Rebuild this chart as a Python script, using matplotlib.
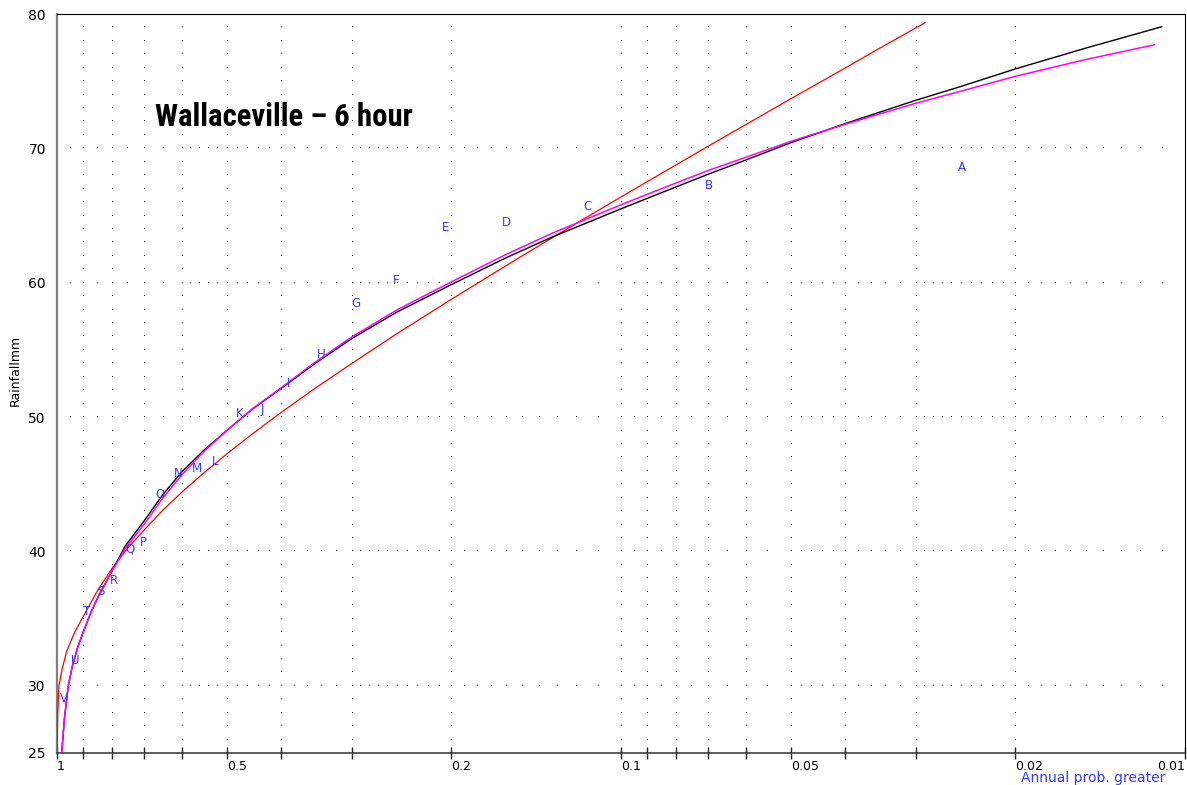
import numpy as np
import matplotlib
matplotlib.use('Agg')
import matplotlib.pyplot as plt
from matplotlib import font_manager as fm

# Probability plot: rainfall (mm) vs annual exceedance probability
letters = list('ABCDEFGHIJKLMNOPQRSTUV')
obs_p = [0.0249, 0.0697, 0.1147, 0.1595, 0.2048, 0.2507, 0.2949, 0.3396, 0.3880, 0.4330, 0.4749,
         0.5237, 0.5638, 0.6104, 0.6559, 0.7028, 0.7436, 0.7932, 0.8354, 0.8846, 0.9272, 0.9730]
obs_mm = [68.57, 67.23, 65.66, 64.48, 64.11, 60.20, 58.46, 54.67, 52.49, 50.58, 50.28,
          46.71, 46.18, 45.82, 44.24, 40.65, 40.15, 37.87, 37.05, 35.54, 31.87, 29.09]

black_p = [0.981, 0.97, 0.955, 0.94, 0.92, 0.9, 0.87, 0.845, 0.8, 0.757, 0.7, 0.65, 0.6, 0.55,
           0.5, 0.45, 0.4, 0.35, 0.3, 0.25, 0.2, 0.16, 0.1328, 0.1, 0.085, 0.07, 0.06, 0.05,
           0.04, 0.03, 0.025, 0.02, 0.015, 0.011]
black_mm = [25.0, 27.6, 30.0, 31.4, 32.8, 33.92, 35.5, 36.64, 38.5, 40.4, 42.3, 44.2, 45.95, 47.5,
            49.0, 50.6, 52.15, 53.95, 55.85, 57.8, 59.86, 61.85, 63.38, 65.5, 66.68, 68.08, 69.14,
            70.42, 71.85, 73.58, 74.6, 75.91, 77.46, 79.05]

magenta_p = [0.981, 0.97, 0.955, 0.94, 0.92, 0.9, 0.87, 0.845, 0.8, 0.757, 0.7, 0.65, 0.6, 0.55,
             0.5, 0.45, 0.4, 0.35, 0.3, 0.25, 0.2, 0.16, 0.1328, 0.1, 0.085, 0.07, 0.06, 0.05,
             0.04, 0.03, 0.025, 0.02, 0.015, 0.01133]
magenta_mm = [25.0, 27.6, 30.0, 31.4, 32.8, 33.92, 35.5, 36.64, 38.5, 40.2, 42.05, 43.95, 45.73,
              47.4, 49.0, 50.63, 52.2, 54.03, 55.97, 57.96, 60.06, 62.1, 63.66, 65.8, 66.98, 68.36,
              69.34, 70.52, 71.8, 73.36, 74.25, 75.36, 76.61, 77.71]

red_p = [0.9995, 0.9971, 0.992, 0.98, 0.961, 0.93, 0.9, 0.85, 0.8, 0.75, 0.7, 0.65, 0.6, 0.55,
         0.5, 0.45, 0.4, 0.35, 0.3, 0.25, 0.2, 0.15, 0.12, 0.1, 0.085, 0.07, 0.06, 0.05, 0.04,
         0.035, 0.0289]
red_mm = [25.0, 28.0, 30.0, 31.2, 32.6, 34.0, 35.1, 37.0, 38.7, 40.23, 41.62, 43.05, 44.43, 45.82,
          47.26, 48.76, 50.36, 52.09, 54.0, 56.19, 58.76, 61.98, 64.42, 66.38, 68.11, 70.17,
          71.78, 73.69, 75.99, 77.39, 79.35]

major_p = [1, 0.5, 0.2, 0.1, 0.05, 0.02, 0.01]
major_labels = ['1', '0.5', '0.2', '0.1', '0.05', '0.02', '0.01']
minor_p = [0.9, 0.8, 0.7, 0.6, 0.4, 0.3, 0.09, 0.08, 0.07, 0.06, 0.04, 0.03]
y_ticks = [25, 30, 40, 50, 60, 70, 80]
grid_rows = [30, 40, 50, 60, 70]

blue = '#3838ff'


def fwd(p):
  with np.errstate(divide='ignore', invalid='ignore'):
    return np.log(np.asarray(p, dtype=float))


def inv(t):
  return np.exp(np.asarray(t, dtype=float))


def narrow_bold_font():
  # look for a condensed bold face (like Arial Narrow); fall back to Liberation Sans bold
  wanted = ['Liberation Sans Narrow', 'Arial Narrow', 'Roboto Condensed', 'Open Sans Condensed',
            'Noto Sans Condensed', 'DejaVu Sans Condensed']
  bold = [f for f in fm.fontManager.ttflist if str(f.weight) in ('bold', '700')]
  for name in wanted:
    for f in bold:
      if f.name == name:
        return fm.FontProperties(fname=f.fname)
  for f in bold:
    if 'condensed' in str(f.stretch).lower() and 'Sans' in f.name:
      return fm.FontProperties(fname=f.fname)
  return fm.FontProperties(family=['Liberation Sans', 'DejaVu Sans'], weight='bold')


fig = plt.figure(figsize=(11.87, 7.85), dpi=100)
ax = fig.add_axes([57/1187, 32/785, 1128/1187, 739/785])
ax.set_xscale('function', functions=(fwd, inv))
ax.set_xlim(1.0, 0.01)
ax.set_ylim(25, 80)

# dotted grid: vertical lines at every tick, one dot per mm
grid_x = np.array(major_p + minor_p, dtype=float)
ys = np.arange(26, 80)
gx, gy = np.meshgrid(grid_x, ys)
ax.plot(gx.ravel(), gy.ravel(), ',', color='black', zorder=1)

# horizontal dotted rows
p_dots = np.concatenate([np.arange(1.0, 0.6, -0.05), np.arange(0.6, 0.3, -0.02),
                         np.arange(0.3, 0.1, -0.01), np.arange(0.1, 0.05, -0.005),
                         np.arange(0.05, 0.03, -0.002), np.arange(0.03, 0.0105, -0.001)])[1:]
hx, hy = np.meshgrid(p_dots, grid_rows)
ax.plot(hx.ravel(), hy.ravel(), ',', color='black', zorder=1)

# fitted curves
ax.plot(red_p, red_mm, color='#ff0000', lw=0.9, zorder=3)
ax.plot(black_p, black_mm, color='black', lw=1.0, zorder=3)
ax.plot(magenta_p, magenta_mm, color='#ff00ff', lw=1.1, zorder=4)

# observed events as letters
for lab, p, v in zip(letters, obs_p, obs_mm):
  ax.text(p, v, lab, ha='center', va='center', color=blue, fontsize=8.5, zorder=5)

# axes cosmetics
ax.set_xticks(major_p)
ax.set_xticklabels(major_labels)
ax.set_xticks(minor_p, minor=True)
ax.tick_params(axis='x', which='both', direction='inout', length=8, width=1, color='#222222',
               labelsize=9, pad=1)
for t in ax.get_xticklabels():
  t.set_ha('left')
ax.get_xticklabels()[-1].set_ha('right')

ax.set_yticks(y_ticks)
ax.tick_params(axis='y', length=0, labelsize=10, pad=8)

ax.spines['left'].set_color('#808080')
ax.spines['left'].set_linewidth(1.6)
ax.spines['bottom'].set_color('#303030')
ax.spines['bottom'].set_linewidth(1.1)
ax.spines['top'].set_linewidth(0.8)
ax.spines['right'].set_linewidth(0.8)

# title, sized so that its width matches the reference (about 258 px)
title_font = narrow_bold_font()
title_font.set_size(22.8)
title = fig.text(155/1187, 1 - 117/785, 'Wallaceville – 6 hour', ha='left', va='center',
                 fontproperties=title_font)
renderer = fig.canvas.get_renderer()
w = title.get_window_extent(renderer).width
if w > 262:
  title.set_fontsize(22.8 * 258 / w)

fig.text(15/1187, 1 - 370/785, 'Rainfallmm', rotation=90, ha='center', va='center', fontsize=9)
fig.text(1165/1187, 1 - 778/785, 'Annual prob. greater', ha='right', va='center',
         color=blue, fontsize=10)

fig.savefig('out.png', dpi=100)
